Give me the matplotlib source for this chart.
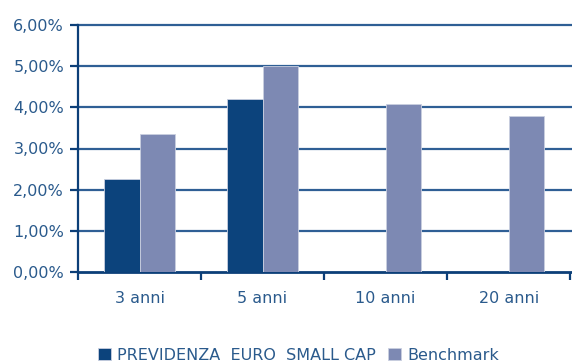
import matplotlib
matplotlib.use("Agg")
import matplotlib.pyplot as plt
import numpy as np

categories = ["3 anni", "5 anni", "10 anni", "20 anni"]
fund_label = "PREVIDENZA  EURO  SMALL CAP"
bench_label = "Benchmark"
fund_values = [2.26, 4.21, np.nan, np.nan]
bench_values = [3.35, 5.00, 4.08, 3.79]
y_ticks = [0, 1, 2, 3, 4, 5, 6]

fund_color = "#0c437c"
bench_color = "#7d89b3"
axis_color = "#0c3f78"
grid_color = "#2f5f95"
text_color = "#2a5a8c"

plt.rcParams["font.family"] = ["DejaVu Sans"]

fig = plt.figure(figsize=(5.72, 3.61), dpi=100)
ax = fig.add_axes([78 / 572, 1 - 272 / 361, 494 / 572, 247 / 361])

x = np.arange(len(categories))
w = 0.29
ax.bar(x - w / 2, fund_values, w, color=fund_color, edgecolor="#c9cfe0",
       linewidth=0.6, label=fund_label, zorder=3)
ax.bar(x + w / 2, bench_values, w, color=bench_color, edgecolor="#c9cfe0",
       linewidth=0.6, label=bench_label, zorder=3)

ax.set_xlim(-0.5, len(categories) - 0.5 + 0.015)
ax.set_ylim(0, 6)
ax.set_yticks(y_ticks)
ax.set_yticklabels([f"{v:.2f}".replace(".", ",") + "%" for v in y_ticks])
ax.set_xticks(x)
ax.set_xticklabels(categories)
ax.set_xticks(np.arange(len(categories) + 1) - 0.5, minor=True)

for v in y_ticks[1:]:
    ax.axhline(v, color=grid_color, linewidth=1.6, zorder=1, clip_on=False)

for side in ["top", "right"]:
    ax.spines[side].set_visible(False)
ax.spines["left"].set_color(axis_color)
ax.spines["bottom"].set_color(axis_color)
ax.spines["left"].set_linewidth(1.6)
ax.spines["bottom"].set_linewidth(2.0)

ax.tick_params(axis="y", colors=axis_color, labelcolor=text_color,
               length=6, width=1.6, labelsize=11.5, pad=4)
ax.tick_params(axis="x", which="major", length=0, labelcolor=text_color,
               labelsize=11.5, pad=14)
ax.tick_params(axis="x", which="minor", length=6, width=1.6,
               colors=axis_color)

fig.legend(loc="center", bbox_to_anchor=(0.522, 1 - 355 / 361), ncol=2,
           frameon=False, handlelength=0.8, handleheight=0.8,
           handletextpad=0.4, columnspacing=0.8, fontsize=11.5,
           labelcolor=text_color, borderaxespad=0)

fig.savefig("out.png", dpi=100)
